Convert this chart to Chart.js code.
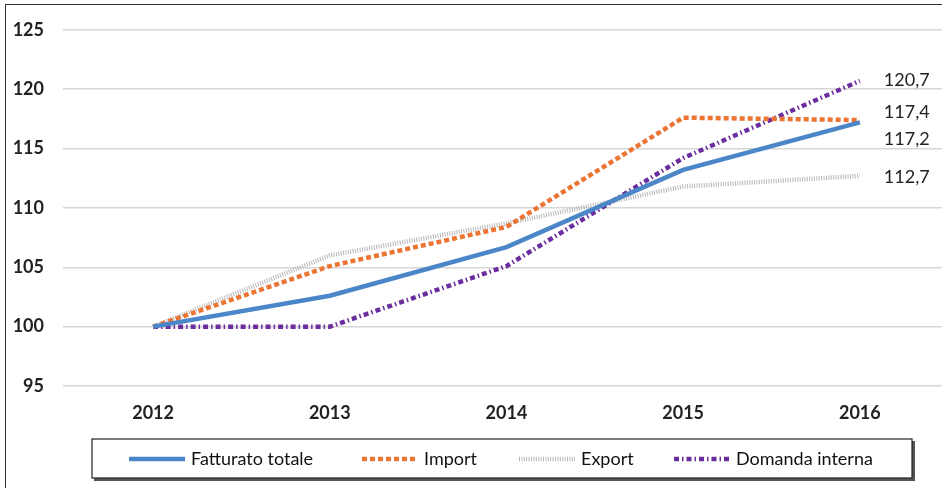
<!DOCTYPE html>
<html>
<head>
<meta charset="utf-8">
<script src="https://cdn.jsdelivr.net/npm/chart.js@4/dist/chart.umd.min.js"></script>
<style>
  html, body { margin: 0; padding: 0; background: #fff; }
  #wrap { position: relative; width: 942px; height: 488px; }
  #frame { position: absolute; left: 5px; top: 4px; right: -2px; bottom: -2px;
           border-left: 1.5px solid #333; border-top: 1.5px solid #333; }
  canvas { position: absolute; left: 0; top: 0; }
</style>
</head>
<body>
<div id="wrap">
  <div id="frame"></div>
  <canvas id="lineChart" width="942" height="488"></canvas>
</div>
<script>
// data
var years = [2012, 2013, 2014, 2015, 2016];
var fatturatoTotale = [100, 102.6, 106.7, 113.2, 117.2];
var importVals = [100, 105.1, 108.4, 117.6, 117.4];
var exportVals = [100, 106.0, 108.7, 111.8, 112.7];
var domandaInterna = [100, 100.0, 105.1, 114.2, 120.7];
var yTicks = [95, 100, 105, 110, 115, 120, 125];

function points(vals) {
    return years.map(function(y, i) { return { x: y, y: vals[i] }; });
}

var fontName = 'Lato, "Open Sans", sans-serif';

// end-of-line value labels, offsets are only for placement
var endLabels = {
    id: 'endLabels',
    afterDatasetsDraw: function(chart) {
        var ctx = chart.ctx;
        var offsets = [17, -8, 1, -1];
        ctx.save();
        ctx.font = '18px ' + fontName;
        ctx.fillStyle = '#222';
        ctx.textBaseline = 'middle';
        chart.data.datasets.forEach(function(ds, i) {
            var meta = chart.getDatasetMeta(i);
            var last = meta.data[meta.data.length - 1];
            var v = ds.data[ds.data.length - 1].y;
            ctx.fillText(v.toFixed(1).replace('.', ','), last.x + 24, last.y + offsets[i]);
        });
        ctx.restore();
    }
};

// legend in a framed box under the axis
var boxLegend = {
    id: 'boxLegend',
    afterDraw: function(chart) {
        var ctx = chart.ctx;
        var startX = [129, 362, 519, 674];
        var y = 459;
        ctx.save();
        ctx.fillStyle = '#555';
        ctx.fillRect(94, 441, 821, 40);
        ctx.fillStyle = '#fff';
        ctx.fillRect(92, 439, 820, 39);
        ctx.strokeStyle = '#222';
        ctx.lineWidth = 1.2;
        ctx.strokeRect(92, 439, 820, 39);
        ctx.font = '18px ' + fontName;
        ctx.textBaseline = 'middle';
        chart.data.datasets.forEach(function(ds, i) {
            var x = startX[i];
            ctx.beginPath();
            ctx.setLineDash(ds.borderDash || []);
            ctx.lineWidth = ds.borderWidth;
            ctx.strokeStyle = ds.borderColor;
            ctx.moveTo(x, y);
            ctx.lineTo(x + 56, y);
            ctx.stroke();
            ctx.setLineDash([]);
            ctx.fillStyle = '#111';
            ctx.fillText(ds.label, x + 62, y);
        });
        ctx.restore();
    }
};

var ctx = document.getElementById('lineChart').getContext('2d');
var lineChart = new Chart(ctx, {
    type: 'line',
    data: {
        datasets: [{
            label: 'Fatturato totale',
            data: points(fatturatoTotale),
            borderColor: '#4a86c8',
            borderWidth: 4.5
        }, {
            label: 'Import',
            data: points(importVals),
            borderColor: '#ec7533',
            borderWidth: 4.5,
            borderDash: [5, 3]
        }, {
            label: 'Export',
            data: points(exportVals),
            borderColor: '#b8b8b8',
            borderWidth: 4.5,
            borderDash: [1, 1.4]
        }, {
            label: 'Domanda interna',
            data: points(domandaInterna),
            borderColor: '#6a2c9e',
            borderWidth: 4.5,
            borderDash: [5, 3, 1.5, 3]
        }]
    },
    options: {
        responsive: false,
        animation: false,
        layout: { padding: { top: 29, right: 0, left: 0, bottom: 0 } },
        elements: {
            point: { radius: 0 },
            line: { tension: 0, borderCapStyle: 'butt' }
        },
        plugins: {
            legend: { display: false },
            tooltip: { enabled: false }
        },
        scales: {
            x: {
                type: 'linear',
                min: 2011.49,
                max: 2016.465,
                afterBuildTicks: function(scale) {
                    scale.ticks = years.map(function(y) { return { value: y }; });
                },
                afterFit: function(scale) { scale.height = 102; },
                grid: { display: false, drawTicks: false },
                border: { display: false },
                ticks: {
                    padding: 16,
                    color: '#222',
                    font: { family: fontName, size: 18, weight: 'bold' },
                    callback: function(v) { return String(v); }
                }
            },
            y: {
                min: 95,
                max: 125,
                afterBuildTicks: function(scale) {
                    scale.ticks = yTicks.map(function(v) { return { value: v }; });
                },
                afterFit: function(scale) { scale.width = 63; },
                grid: { color: '#d6d6d6', lineWidth: 1.5, drawTicks: false },
                border: { display: false },
                ticks: {
                    padding: 19,
                    color: '#222',
                    font: { family: fontName, size: 18, weight: 'bold' }
                }
            }
        }
    },
    plugins: [endLabels, boxLegend]
});
</script>
</body>
</html>
